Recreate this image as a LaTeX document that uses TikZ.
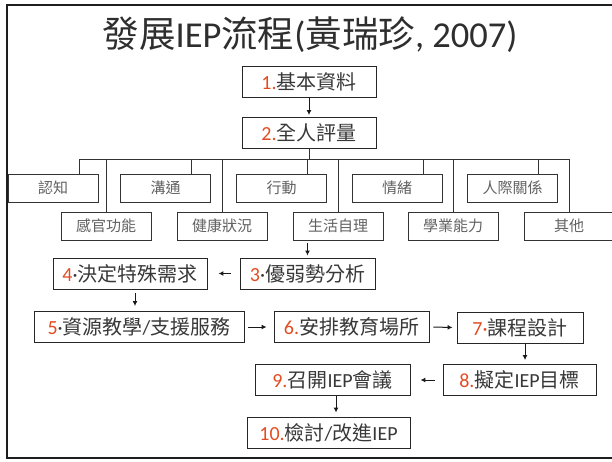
\documentclass[tikz,border=0pt]{standalone}
\usepackage{fontspec}
\setmainfont{Noto Sans CJK TC}
\newfontfamily\lat{Carlito}
\usetikzlibrary{arrows.meta, positioning, calc}
\definecolor{numred}{RGB}{226,76,34}
\definecolor{frameblk}{RGB}{30,30,30}
\newcommand{\stepno}[1]{\textcolor{numred}{\lat #1}}

\begin{document}
\begin{tikzpicture}[
    x=1pt, y={(0pt,-1pt)},
    stepbox/.style={rectangle, draw=black!85, line width=0.9pt, minimum width=#1, minimum height=31pt, inner sep=0pt, font=\fontsize{20}{24}\selectfont, text=black!78, text height=17.6pt, text depth=2.4pt},
    areabox/.style={rectangle, draw=black!80, line width=0.8pt, minimum width=90pt, minimum height=28pt, inner sep=0pt, font=\fontsize{15}{18}\selectfont, text=black!62, text height=13.2pt, text depth=1.8pt},
    tree/.style={draw=black!80, line width=0.8pt},
    arrow/.style={-{Latex[length=5pt,width=5pt]}, line width=1pt, draw=black!90}
]
    \useasboundingbox (0,0) rectangle (612,461);

    % Slide frame
    \draw[line width=2.5pt, draw=frameblk] (7,5) rectangle (640,458);

    % Header Title
    \node[font=\fontsize{36.5}{40}\selectfont, anchor=base, text=black!82] (title) at (310,47.5)
        {發展{\lat IEP}流程{\lat (}黃瑞珍{\lat , 2007)}};

    % --- Steps 1 and 2 ---
    \node[stepbox=134pt] (basic) at (309,81.5) {\stepno{1.}基本資料};
    \node[stepbox=134pt] (assess) at (309,132.5) {\stepno{2.}全人評量};
    \draw[arrow, shorten >=1.5pt] (basic) -- (assess);

    % --- Assessment areas ---
    \node[areabox] (cog) at (53,188) {認知};
    \node[areabox] (comm) at (165.5,188) {溝通};
    \node[areabox] (mot) at (281.5,188) {行動};
    \node[areabox] (emo) at (397,188) {情緒};
    \node[areabox] (soc) at (512.5,188) {人際關係};

    \node[areabox] (sens) at (106,226) {感官功能};
    \node[areabox] (hlth) at (222,226) {健康狀況};
    \node[areabox] (life) at (338,226) {生活自理};
    \node[areabox] (acad) at (453,226) {學業能力};
    \node[areabox] (other) at (569,226) {其他};

    % Bus from step 2
    \coordinate (bus) at (309,159);
    \draw[tree] (assess.south) -- (bus);
    \foreach \n in {cog,comm,mot,emo,soc}
        \draw[tree] ([xshift=26pt]\n.north) |- (bus);
    \foreach \n in {sens,hlth,life,acad,other}
        \draw[tree] (\n.north) |- (bus);

    % --- Steps 3 to 10 ---
    \node[stepbox=135pt] (swot) at (307.5,273.5) {\stepno{3}{\lat ·}優弱勢分析};
    \node[stepbox=154pt] (needs) at (130,273.5) {\stepno{4}{\lat ·}決定特殊需求};
    \node[stepbox=210pt] (serv) at (139,327) {\stepno{5}{\lat ·}資源教學{\lat /}支援服務};
    \node[stepbox=155pt] (place) at (351.5,327) {\stepno{6.}安排教育場所};
    \node[stepbox=126pt] (curr) at (520,327.5) {\stepno{7·}課程設計};
    \node[stepbox=153pt] (goal) at (519.5,380) {\stepno{8.}擬定{\lat IEP}目標};
    \node[stepbox=155pt] (meet) at (332.5,380) {\stepno{9.}召開{\lat IEP}會議};
    \node[stepbox=163pt] (rev) at (328.5,432.5) {\stepno{10.}檢討{\lat /}改進{\lat IEP}};

    % Flow arrows
    \draw[arrow, shorten <=3pt, shorten >=2pt] (life.south -| swot.north) -- (swot.north);
    \draw[arrow, shorten <=9pt, shorten >=11pt] (swot.west) -- (needs.east);
    \draw[arrow, shorten <=4pt, shorten >=5pt] ([xshift=5pt]needs.south) -- ([xshift=5pt]needs.south |- serv.north);
    \draw[arrow, shorten <=4pt, shorten >=7pt] (serv.east) -- (place.west);
    \draw[arrow, shorten <=4pt, shorten >=4pt] (place.east) -- (curr.west);
    \draw[arrow, shorten >=4pt] ([xshift=5pt]curr.south) -- ([xshift=5pt]curr.south |- goal.north);
    \draw[arrow, shorten <=8pt, shorten >=10pt] (goal.west) -- (meet.east);
    \draw[arrow, shorten >=4pt] ([xshift=3.5pt]meet.south) -- ([xshift=3.5pt]meet.south |- rev.north);

\end{tikzpicture}
\end{document}
